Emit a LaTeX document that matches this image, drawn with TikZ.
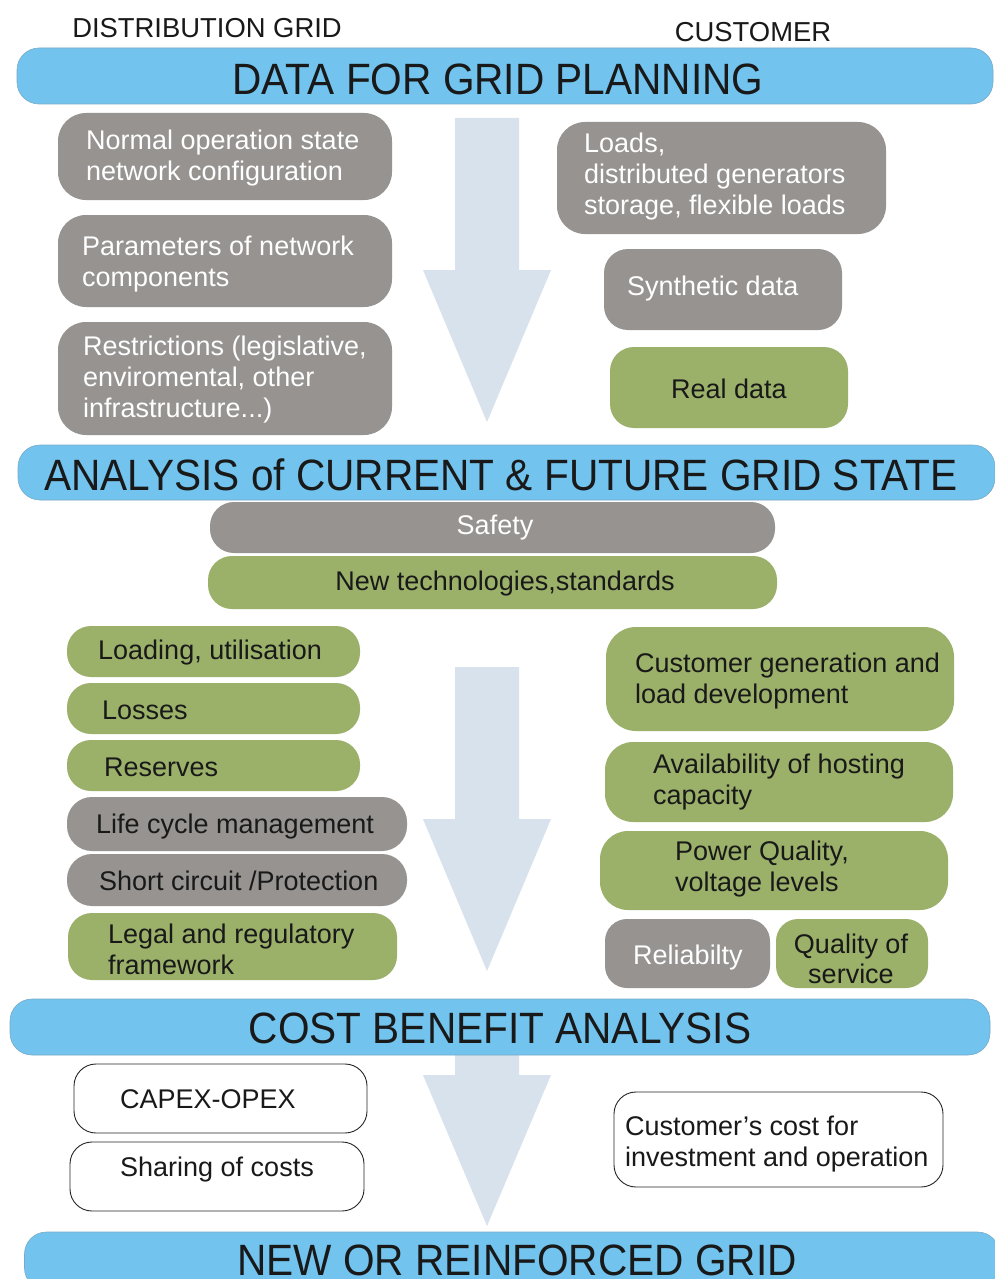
\documentclass[tikz,border=0pt]{standalone}
\usepackage{fontspec}
\setmainfont{Liberation Sans}
\definecolor{hdrblue}{RGB}{114,196,238}
\definecolor{hdredge}{RGB}{120,170,200}
\definecolor{boxgray}{RGB}{150,147,145}
\definecolor{boxgreen}{RGB}{155,177,106}
\definecolor{arrowblue}{RGB}{215,226,236}
\definecolor{txtdark}{RGB}{25,25,25}
\newcommand{\tallhdr}[1]{\scalebox{1}[1.08]{#1}}
\begin{document}
\begin{tikzpicture}[x=1pt,y=-1pt,
  hdr/.style={fill=hdrblue, draw=hdredge, line width=0.6pt, rounded corners=22pt, inner sep=0pt},
  hdrtxt/.style={text=txtdark, font=\fontsize{40.6}{46}\selectfont, inner sep=0pt},
  gbox/.style={fill=boxgray, rounded corners=#1, inner sep=0pt},
  gbox/.default=24pt,
  vbox/.style={fill=boxgreen, rounded corners=#1, inner sep=0pt},
  vbox/.default=24pt,
  wbox/.style={fill=white, draw=black!85, line width=0.9pt, rounded corners=22pt, inner sep=0pt},
  wtxt/.style={text=white, font=\fontsize{27}{31}\selectfont, align=left, inner sep=0pt},
  btxt/.style={text=txtdark, font=\fontsize{27}{31}\selectfont, align=left, inner sep=0pt},
  ctxt/.style={text=txtdark, font=\fontsize{27}{30}\selectfont, align=center, inner sep=0pt},
  toplbl/.style={text=txtdark, font=\fontsize{27.4}{31}\selectfont, inner sep=0pt},
  bigarrow/.style={fill=arrowblue, draw=none}
]
\useasboundingbox (0,0) rectangle (995,1279);
\clip (0,0) rectangle (995,1279);
\fill[white] (0,0) rectangle (995,1279);

% big arrows
\fill[bigarrow] (455,118) -- (519,118) -- (519,270) -- (551,270) -- (487,422) -- (423,270) -- (455,270) -- cycle;
\fill[bigarrow] (455,667) -- (519,667) -- (519,819) -- (551,819) -- (487,971) -- (423,819) -- (455,819) -- cycle;
\fill[bigarrow] (455,1052) -- (519,1052) -- (519,1075) -- (551,1075) -- (487,1226) -- (423,1075) -- (455,1075) -- cycle;

% top labels
\node[toplbl] (lblgrid) at (207,28) {DISTRIBUTION GRID};
\node[toplbl] (lblcust) at (753,32) {CUSTOMER};

% headers
\node[hdr, minimum width=976pt, minimum height=56pt] (h1) at (505,76) {};
\node[hdrtxt] (h1t) at (498,79) {\tallhdr{DATA FOR GRID PLANNING}};
\node[hdr, minimum width=977pt, minimum height=55pt] (h2) at (506.5,472.5) {};
\node[hdrtxt] (h2t) at (501,475) {\tallhdr{ANALYSIS of CURRENT \& FUTURE GRID STATE}};
\node[hdr, minimum width=980pt, minimum height=56pt] (h3) at (500,1027) {};
\node[hdrtxt] (h3t) at (500,1028) {\tallhdr{COST BENEFIT ANALYSIS}};
\node[hdr, minimum width=975pt, minimum height=58pt] (h4) at (512,1261) {};
\node[hdrtxt] (h4t) at (517,1260) {\tallhdr{NEW OR REINFORCED GRID}};

% section 1 left
\node[gbox=28pt, minimum width=334pt, minimum height=87pt] (b1) at (225,156.5) {};
\node[wtxt, anchor=west] (b1t) at (86,158) {Normal operation state\\network configuration};
\node[gbox=28pt, minimum width=334pt, minimum height=92pt] (b2) at (225,261) {};
\node[wtxt, anchor=west] (b2t) at (82,264) {Parameters of network\\components};
\node[gbox=28pt, minimum width=334pt, minimum height=113pt] (b3) at (225,378.5) {};
\node[wtxt, anchor=west] (b3t) at (83,380) {Restrictions (legislative,\\enviromental, other\\infrastructure...)};

% section 1 right
\node[gbox=28pt, minimum width=329pt, minimum height=112pt] (b4) at (721.5,178) {};
\node[wtxt, anchor=west] (b4t) at (584,177) {Loads,\\distributed generators\\storage, flexible loads};
\node[gbox=24pt, minimum width=238pt, minimum height=81pt] (b5) at (723,289.5) {};
\node[wtxt, anchor=west] (b5t) at (627,289) {Synthetic data};
\node[vbox=24pt, minimum width=238pt, minimum height=81pt] (b6) at (729,387.5) {};
\node[btxt] (b6t) at (729,389) {Real data};

% section 2 middle
\node[gbox=24pt, minimum width=565pt, minimum height=51pt] (c1) at (492.5,527.5) {};
\node[wtxt] (c1t) at (495,528) {Safety};
\node[vbox=24pt, minimum width=569pt, minimum height=53pt] (c2) at (492.5,582.5) {};
\node[btxt] (c2t) at (505,584) {New technologies,standards};

% section 2 left
\node[vbox=24pt, minimum width=293pt, minimum height=51pt] (d1) at (213.5,651.5) {};
\node[btxt, anchor=west] (d1t) at (98,653) {Loading, utilisation};
\node[vbox=24pt, minimum width=293pt, minimum height=51pt] (d2) at (213.5,708.5) {};
\node[btxt, anchor=west] (d2t) at (102,710) {Losses};
\node[vbox=24pt, minimum width=293pt, minimum height=51pt] (d3) at (213.5,765.5) {};
\node[btxt, anchor=west] (d3t) at (104,767) {Reserves};
\node[gbox=25pt, minimum width=340pt, minimum height=54pt] (d4) at (237,824) {};
\node[btxt, anchor=west] (d4t) at (96,827) {Life cycle management};
\node[gbox=25pt, minimum width=340pt, minimum height=52pt] (d5) at (237,880) {};
\node[btxt, anchor=west] (d5t) at (99,881) {Short circuit /Protection};
\node[vbox=24pt, minimum width=329pt, minimum height=67pt] (d6) at (232.5,946.5) {};
\node[btxt, anchor=west] (d6t) at (108,949) {Legal and regulatory\\framework};

% section 2 right
\node[vbox=30pt, minimum width=348pt, minimum height=104pt] (e1) at (780,679) {};
\node[btxt, anchor=west] (e1t) at (635,681) {Customer generation and\\load development};
\node[vbox=28pt, minimum width=348pt, minimum height=80pt] (e2) at (779,782) {};
\node[btxt, anchor=west] (e2t) at (653,782) {Availability of hosting\\capacity};
\node[vbox=28pt, minimum width=348pt, minimum height=79pt] (e3) at (774,870.5) {};
\node[btxt, anchor=west] (e3t) at (675,869) {Power Quality,\\voltage levels};
\node[gbox=22pt, minimum width=165pt, minimum height=69pt] (e4) at (687.5,953.5) {};
\node[wtxt] (e4t) at (688,958) {Reliabilty};
\node[vbox=22pt, minimum width=152pt, minimum height=69pt] (e5) at (852,953.5) {};
\node[ctxt] (e5t) at (851,959) {Quality of\\service};

% section 3
\node[wbox, minimum width=293pt, minimum height=69pt] (f1) at (220.5,1098.5) {};
\node[btxt, anchor=west] (f1t) at (120,1099) {CAPEX-OPEX};
\node[wbox, minimum width=294pt, minimum height=69pt] (f2) at (217,1176.5) {};
\node[btxt, anchor=west] (f2t) at (120,1170) {Sharing of costs};
\node[wbox, minimum width=329pt, minimum height=95pt] (f3) at (778.5,1139.5) {};
\node[btxt, anchor=west] (f3t) at (625,1144) {Customer’s cost for\\investment and operation};
\end{tikzpicture}
\end{document}
